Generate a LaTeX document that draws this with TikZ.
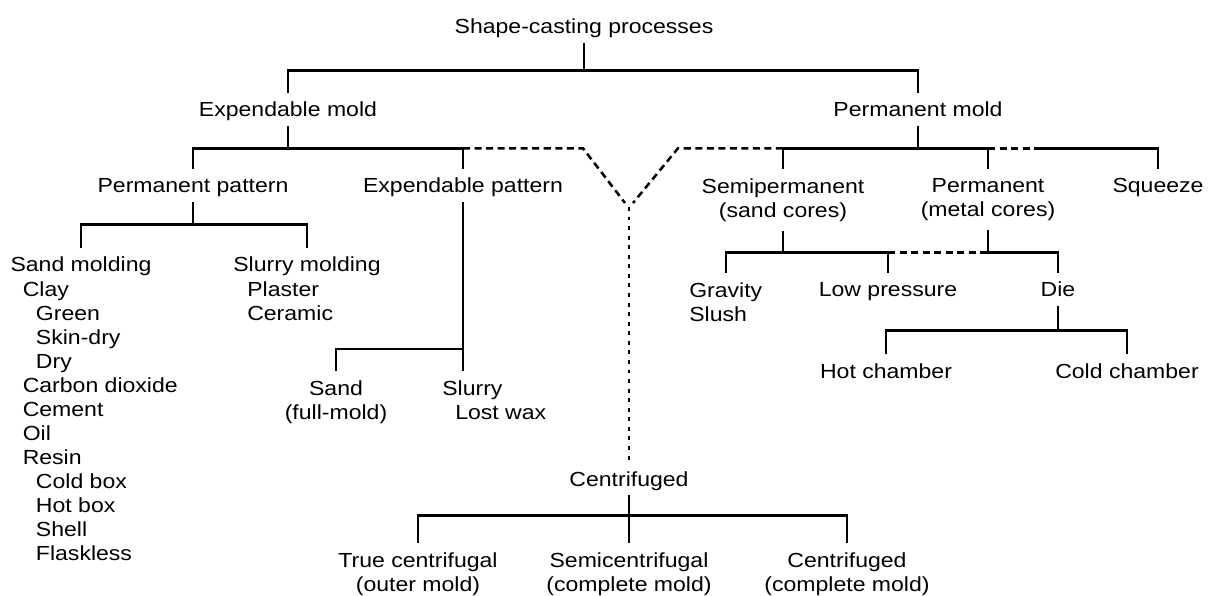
\documentclass[tikz,border=0pt]{standalone}
\usepackage{fontspec}
\setmainfont{Liberation Sans}[FakeStretch=1.13]
\usetikzlibrary{positioning}
\tikzset{
    mynode/.style = {inner xsep=0pt, inner ysep=6.4pt, align=center, text=black},
    mynodes/.style = {mynode, text height=10.6pt, text depth=0pt},
    mynodel/.style = {inner sep=0pt, align=left, anchor=north west, text=black},
    edgen/.style = {-,line width=1.8pt,black},
    edged/.style = {-,line width=1.8pt,black,dash pattern=on 5pt off 3.2pt}, % side branches
    edgedd/.style = {-,line width=1.8pt,black,dash pattern=on 2.8pt off 4pt}, % to centrifuged
}

\begin{document}
\begin{tikzpicture}[x=0.025cm, y=-0.025cm, font=\fontsize{14.5}{17.07}\selectfont]
  \useasboundingbox (0,0) rectangle (1208,596);

  % top two levels
  \node[mynodes, anchor=base] (root) at (584,34) {Shape-casting processes};
  \node[mynodes, anchor=base] (em) at (288,117) {Expendable mold};
  \node[mynodes, anchor=base] (pm) at (918,117) {Permanent mold};

  \node[mynodes, anchor=base] (pp) at (193,193) {Permanent pattern};
  \node[mynodes, anchor=base] (ep) at (463,193) {Expendable pattern};
  \node[mynode, anchor=north] (semi) at (783,169) {Semipermanent\\(sand cores)};
  \node[mynode, anchor=north] (permc) at (988,169) {Permanent\\(metal cores)};
  \node[mynodes, anchor=base] (sq) at (1158,193) {Squeeze};

  % expendable mold side
  \node[mynodes, anchor=base] (smold) at (81,272) {Sand molding};
  \node[mynodel] (smlist) at (22.5,281) {Clay\\
    \hspace*{0.33cm}Green\\
    \hspace*{0.33cm}Skin-dry\\
    \hspace*{0.33cm}Dry\\
    Carbon dioxide\\
    Cement\\
    Oil\\
    Resin\\
    \hspace*{0.33cm}Cold box\\
    \hspace*{0.33cm}Hot box\\
    \hspace*{0.33cm}Shell\\
    \hspace*{0.33cm}Flaskless};
  \node[mynodes, anchor=base] (slmold) at (307,272) {Slurry molding};
  \node[mynodel] (sllist) at (247,281) {Plaster\\Ceramic};

  \node[mynode, anchor=north] (sandfm) at (336,371) {Sand\\(full-mold)};
  \node[mynodes, anchor=base west] (slurry) at (442,395) {Slurry};
  \node[mynodes, anchor=base west] (lwax) at (455,419) {Lost wax};

  % permanent mold side
  \node[mynode, anchor=north west, align=left] (grav) at (689,273) {Gravity\\Slush};
  \node[mynodes, anchor=base] (lowp) at (888,297) {Low pressure};
  \node[mynodes, anchor=base] (die) at (1058,297) {Die};
  \node[mynodes, anchor=base] (hotc) at (886,378) {Hot chamber};
  \node[mynodes, anchor=base] (coldc) at (1127,378) {Cold chamber};

  % centrifuged
  \node[mynodes, anchor=base] (cf) at (629,486) {Centrifuged};
  \node[mynode, anchor=north] (tc) at (418,543) {True centrifugal\\(outer mold)};
  \node[mynode, anchor=north] (semic) at (629,543) {Semicentrifugal\\(complete mold)};
  \node[mynode, anchor=north] (cfc) at (847,543) {Centrifuged\\(complete mold)};

  \coordinate (ya) at (625,203);
  \coordinate (yb) at (633,203);
  \coordinate (yc) at (629,207);

  % connectors
  \draw[edgen] (root.south) -- ++(0,27) coordinate (b0);
  \draw[edgen] (em.north) |- (b0) -| (pm.north);

  \draw[edgen] (em.south) -- ++(0,22) coordinate (b1);
  \draw[edgen] (pp.north) |- (b1) -| (ep.north);
  \draw[edged] (ep.north |- b1) -- ++(120,0) -- (ya);

  \draw[edgen] (pm.south) -- ++(0,22) coordinate (b2);
  \draw[edgen] (semi.north) |- (b2) -| (permc.north);
  \draw[edged] (semi.north |- b2) -- ++(-105,0) -- (yb);
  \draw[edged] (permc.north |- b2) -- ++(49,0) coordinate (b2r);
  \draw[edgen] (b2r) -| (sq.north);
  \draw[edgedd] (yc) -- (cf.north);

  \draw[edgen] (pp.south) -- ++(0,22) coordinate (b3);
  \draw[edgen] (smold.north) |- (b3) -| (slmold.north);

  \draw[edgen] (ep.south) -- (ep.south |- sandfm.north);
  \draw[edgen] (sandfm.north) -- ++(0,-22) -| (ep.south);

  \draw[edgen] (semi.south) -- ++(0,22) coordinate (b4);
  \draw[edgen] (grav.north) |- (b4) -- (b4 -| lowp.north) -- (lowp.north);
  \draw[edged] (b4 -| lowp.north) -- (b4 -| permc.south);
  \draw[edgen] (permc.south) -- (permc.south |- b4) -| (die.north);

  \draw[edgen] (die.south) -- ++(0,24) coordinate (b5);
  \draw[edgen] (hotc.north) |- (b5) -| (coldc.north);

  \draw[edgen] (cf.south) -- ++(0,20) coordinate (b6);
  \draw[edgen] (tc.north) |- (b6) -| (cfc.north);
  \draw[edgen] (b6) -- (semic.north);
\end{tikzpicture}
\end{document}
